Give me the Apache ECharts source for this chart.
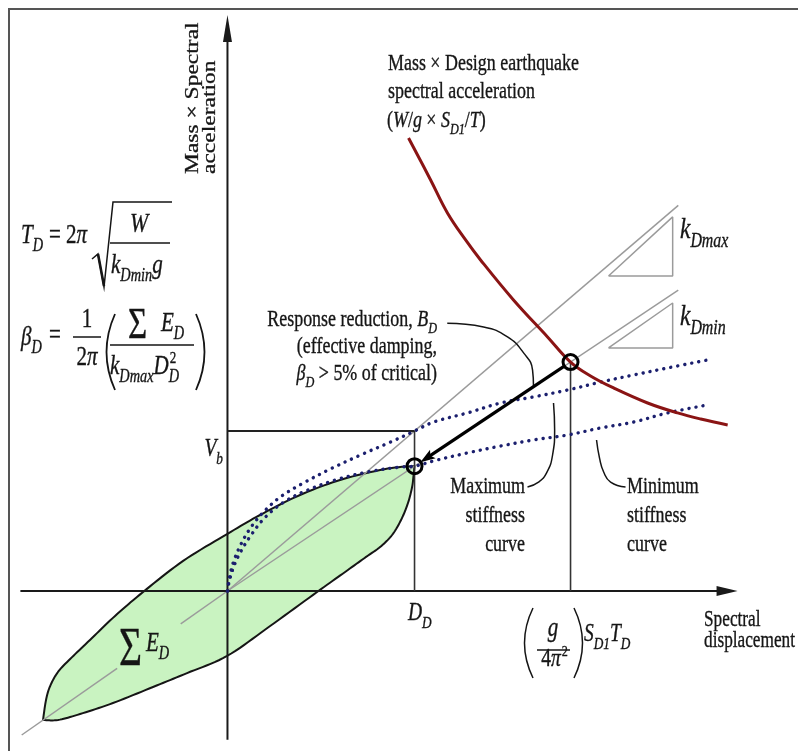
<!DOCTYPE html>
<html>
<head>
<meta charset="utf-8">
<title>Bilinear isolation system – design displacement</title>
<script src="https://cdn.jsdelivr.net/npm/echarts@6/dist/echarts.min.js"></script>
<style>
  html, body { margin: 0; padding: 0; background: #fff; }
  #chart { width: 798px; height: 751px; }
</style>
</head>
<body>
<div id="chart"></div>
<script>
// Units: displacement with D_D = 100, force with V_b = 100 (k_Dmax line through (D_D, V_b)).
const designPoint = [100, 78];        // (D_D, k_Dmin·D_D)
const demandPoint = [183.4, 143.1];   // ((g/4π²)·S_D1·T_D, k_Dmin·that)

const xAxisSpan = [[-110.7, 0], [272.7, 0]];
const yAxisSpan = [[0, -93], [0, 360]];

// Hysteresis loop: loading branch (tip -> design point) and unloading branch (design point -> tip)
const loopLoading = [[-98.6, -80.6], [-97, -68.1], [-94.8, -59.4], [-90.6, -50.6], [-84.1, -42.5], [-73.5, -30.6],
  [-60.1, -15.6], [-45.1, -0.6], [-23.7, 18.8], [-0.2, 35.6], [17.4, 47.5], [38.8, 60], [60.2, 69.4], [81.6, 75.6],
  [92.3, 77.5], [100, 78]];
const loopUnloading = [[100, 78], [99.5, 72.5], [98.7, 65], [96.5, 55], [92.8, 44.4], [88, 35], [81.6, 27.5],
  [74.1, 21.3], [62.9, 11.9], [47.9, -0.6], [22.8, -21.9], [-0.2, -40.6], [-21.6, -51.3], [-39.8, -60],
  [-61.2, -70], [-78.8, -76.9], [-90.6, -80.6], [-98.6, -80.6]];

// Capacity curves (dotted)
const maxStiffnessCurve = [[0, 0], [1.1, 8.8], [3.2, 18.1], [7, 28.8], [12.3, 39.4], [19.3, 49.4], [28.3, 58.8],
  [40.6, 67.5], [55.1, 76.3], [71.1, 85], [87.2, 93.1], [100, 100], [110.2, 105.6], [128.3, 111.3], [146, 117.5],
  [163.6, 121.3], [181.8, 125.6], [199.5, 130.6], [217.1, 135], [235.3, 139.4], [256.7, 144.4]];
const minStiffnessCurve = [[0, 0], [1.1, 6.9], [3.7, 16.3], [7, 24.4], [12.3, 34.4], [19.8, 45.6], [29.4, 55],
  [41.7, 62.5], [57.8, 69.4], [74.9, 74.4], [92.5, 77.5], [100, 78], [110.2, 81.3], [128.3, 86.3], [146, 90.6],
  [163.6, 94.4], [181.8, 97.5], [199.5, 101.9], [217.1, 105.6], [235.3, 111.3], [256.7, 116.3]];

// Demand: mass × design earthquake spectral acceleration
const demandCurve = [[96.8, 283.1], [108.6, 256.9], [117.6, 236.3], [127.3, 219.4], [135.3, 206.9], [152.9, 181.9],
  [171.1, 158.8], [183.4, 143.1], [194.1, 134.4], [206.4, 126.9], [224.6, 117.5], [240.6, 111.3], [253, 107.5], [267.4, 103.8]];

// Effective stiffness lines and slope triangles
const kDmaxLine = [[0, 0], [241, 241]];
const kDminLineLower = [[-110, -90], [-59, -48.3]];
const kDminLineMid = [[-25, -20.5], [0, 0]];
const kDminLineUpper = [[0, 0], [241, 188]];
const kDmaxTriangle = [[203.7, 196.9], [238, 233.8], [238, 196.9], [203.7, 196.9]];
const kDminTriangle = [[203.7, 151.9], [238, 180], [238, 151.9], [203.7, 151.9]];

// Reference lines
const ddLine = [[100, 0], [100, 100]];
const vbLine = [[0, 100], [100, 100]];
const demandLine = [[183.4, 0], [183.4, 143.1]];

// Label leaders
const dampingLeader = [[117.5, 167.3], [136.9, 165], [149.7, 158.8], [158.3, 148.8], [163.1, 138.1], [163.6, 128]];
const maxLeader = [[174.3, 117.5], [174.9, 100.6], [173.8, 85], [170.6, 73.8], [166.3, 68.1], [160.4, 65]];
const minLeader = [[197.3, 94.4], [198.9, 83.1], [201.1, 74.4], [204.8, 68.1], [212.8, 65]];

// Texts
const yTitle = ['Mass × Spectral', 'acceleration'];
const xTitle = ['Spectral', 'displacement'];
const demandTitle = ['Mass × Design earthquake', 'spectral acceleration'];
const maxLabel = ['Maximum', 'stiffness', 'curve'];
const minLabel = ['Minimum', 'stiffness', 'curve'];

// ---------------------------------------------------------------------------
const FONT = '"Liberation Serif", "Times New Roman", serif';
const SX = 0.78;
const INK = '#151515';
const mctx = document.createElement('canvas').getContext('2d');
function textWidth(t, size, it) {
  mctx.font = (it ? 'italic ' : '') + size + 'px ' + FONT;
  return mctx.measureText(t).width;
}
function glyph(t, x, base, size, it, o) {
  o = o || {};
  const sx = o.sx != null ? o.sx : SX;
  const align = o.align || 'left';
  return {
    type: 'text', x: x, y: base - 0.34 * size, scaleX: sx, z: 100, silent: true,
    style: {
      text: t, fill: o.color || INK, font: (it ? 'italic ' : '') + size + 'px ' + FONT,
      stroke: o.color || INK, lineWidth: 0.35,
      textAlign: align, align: align, textVerticalAlign: 'middle', verticalAlign: 'middle'
    }
  };
}
// pieces: [text, kind]; kind '' upright, 'i' italic, 's' italic subscript, 'p' superscript
function run(pieces, x, base, size, align, sx) {
  sx = sx != null ? sx : SX;
  const items = pieces.map(function (pc) {
    const k = pc[1] || '';
    const sub = k === 's', sup = k === 'p';
    const sz = sub ? size * 0.68 : sup ? size * 0.62 : size;
    const it = k === 'i' || k === 's';
    return { t: pc[0], sz: sz, it: it, dy: sub ? size * 0.28 : sup ? -size * 0.42 : 0, wd: textWidth(pc[0], sz, it) * sx };
  });
  const total = items.reduce(function (a, b) { return a + b.wd; }, 0);
  let cx = align === 'right' ? x - total : align === 'center' ? x - total / 2 : x;
  const els = items.map(function (it) {
    const g = glyph(it.t, cx, base + it.dy, it.sz, it.it, { sx: sx });
    cx += it.wd;
    return g;
  });
  return { els: els, end: cx };
}
function seg(x1, y1, x2, y2, w, color) {
  return { type: 'line', z: 100, silent: true, shape: { x1: x1, y1: y1, x2: x2, y2: y2 }, style: { stroke: color || INK, lineWidth: w || 1.5 } };
}
function paren(x1, y1, cx, y2, w) {
  return { type: 'bezierCurve', z: 100, silent: true,
    shape: { x1: x1, y1: y1, x2: x1, y2: y2, cpx1: cx, cpy1: (y1 + y2) / 2 },
    style: { stroke: INK, lineWidth: w || 1.6, fill: null } };
}

const graphics = [];
function add(r) { (r.els || [r]).forEach(function (e) { graphics.push(e); }); return r; }

// frame
graphics.push({ type: 'polyline', z: 90, silent: true, shape: { points: [[9, 751], [9, 9], [798, 9]] }, style: { stroke: '#555', lineWidth: 2, fill: null } });

// y-axis title, reading upward
[[yTitle[0], 193.5], [yTitle[1], 210.5]].forEach(function (p) {
  graphics.push({ type: 'text', x: p[1], y: 174, rotation: Math.PI / 2, scaleY: 0.8, z: 100, silent: true,
    style: { text: p[0], fill: INK, stroke: INK, lineWidth: 0.35, font: '23.5px ' + FONT, textAlign: 'left', align: 'left', textVerticalAlign: 'middle', verticalAlign: 'middle' } });
});

// T_D = 2π sqrt(W / (k_Dmin g))
add(run([['T', 'i'], ['D', 's']], 21, 245, 27));
add(glyph('=', 49, 245, 27, false));
add(run([['2', ''], ['π', 'i']], 66, 245, 27));
graphics.push({ type: 'polyline', z: 100, silent: true, shape: { points: [[92, 259], [98, 254], [104, 287], [113, 202], [172, 202]] }, style: { stroke: INK, lineWidth: 1.5, fill: null } });
add(seg(98, 254, 104, 286, 2.6));
add(glyph('W', 139, 234, 28, true, { align: 'center' }));
add(seg(110, 243, 170, 243, 1.5));
add(run([['k', 'i'], ['Dmin', 's'], ['g', 'i']], 111, 275, 27));

// β_D = 1/(2π) ( ΣE_D / (k_Dmax D_D²) )
add(run([['β', 'i'], ['D', 's']], 21, 347, 27));
add(glyph('=', 49, 345, 27, false));
add(glyph('1', 87, 329, 27, false, { align: 'center' }));
add(seg(73, 337, 101, 337, 1.5));
add(run([['2', ''], ['π', 'i']], 87, 367, 27, 'center'));
add(paren(115, 314, 98, 390, 1.8));
add(glyph('Σ', 128, 341, 44, false, { sx: 0.75 }));
add(run([['E', 'i'], ['D', 's']], 161, 333, 27));
add(seg(110, 345, 194, 345, 1.5));
const den = add(run([['k', 'i'], ['Dmax', 's'], ['D', 'i']], 110, 376, 27));
add(glyph('D', den.end, 376 + 27 * 0.28, 27 * 0.68, true));
add(glyph('2', den.end + 1, 376 - 27 * 0.42, 27 * 0.62, false));
add(paren(196, 314, 213, 390, 1.8));

// demand curve caption
add(run([[demandTitle[0], '']], 388, 72, 23));
add(run([[demandTitle[1], '']], 388, 100, 23));
add(run([['(', ''], ['W', 'i'], ['/', ''], ['g', 'i'], [' × ', ''], ['S', 'i'], ['D1', 's'], ['/', ''], ['T', 'i'], [')', '']], 387, 129, 23));

// stiffness labels
add(run([['k', 'i'], ['Dmax', 's']], 680, 240, 30));
add(run([['k', 'i'], ['Dmin', 's']], 680, 327, 30));

// damping note (right aligned)
add(run([['Response reduction, ', ''], ['B', 'i'], ['D', 's']], 437, 328, 23, 'right'));
add(run([['(effective damping,', '']], 437, 355, 23, 'right'));
add(run([['β', 'i'], ['D', 's'], [' > 5% of critical)', '']], 437, 382, 23, 'right'));

// V_b and D_D
add(run([['V', 'i'], ['b', 's']], 223, 458, 25, 'right'));
add(run([['D', 'i'], ['D', 's']], 408, 622, 25));

// (g / 4π²) S_D1 T_D
add(paren(533, 608, 516, 678, 1.5));
add(glyph('g', 553, 638, 27, true, { align: 'center' }));
add(seg(537, 650, 570, 650, 1.5));
const fp = add(run([['4', ''], ['π', 'i']], 551, 668, 25, 'center'));
add(glyph('2', fp.end + 1, 668 - 25 * 0.42, 25 * 0.62, false));
add(paren(574, 608, 591, 678, 1.5));
add(run([['S', 'i'], ['D1', 's'], ['T', 'i'], ['D', 's']], 584, 643, 25));

// ΣE_D inside the loop
add(glyph('Σ', 119, 669, 55, false, { sx: 0.72 }));
add(run([['E', 'i'], ['D', 's']], 146, 653, 27));

// capacity curve labels
[495, 524, 553].forEach(function (b, i) {
  add(run([[maxLabel[i], '']], 525, b, 23, 'right'));
  add(run([[minLabel[i], '']], 627, b, 23));
});

// axis title
add(run([[xTitle[0], '']], 704, 628, 23, 'left', 0.75));
add(run([[xTitle[1], '']], 704, 649, 23, 'left', 0.75));

// ---------------------------------------------------------------------------
function sampleSpline(pts, steps) {
  steps = steps || 10;
  const out = [];
  const n = pts.length;
  for (let i = 0; i < n - 1; i++) {
    const p0 = pts[Math.max(i - 1, 0)], p1 = pts[i], p2 = pts[i + 1], p3 = pts[Math.min(i + 2, n - 1)];
    for (let s = 0; s < steps; s++) {
      const t = s / steps, t2 = t * t, t3 = t2 * t;
      const f = function (a, b, c, d) {
        return 0.5 * ((2 * b) + (-a + c) * t + (2 * a - 5 * b + 4 * c - d) * t2 + (-a + 3 * b - 3 * c + d) * t3);
      };
      out.push([f(p0[0], p1[0], p2[0], p3[0]), f(p0[1], p1[1], p2[1], p3[1])]);
    }
  }
  out.push(pts[n - 1]);
  return out;
}
function arrowEls(a, b, len, half, width, color, trimStart, trimEnd, notch) {
  const dx = b[0] - a[0], dy = b[1] - a[1], L = Math.hypot(dx, dy), ux = dx / L, uy = dy / L;
  const s = [a[0] + ux * (trimStart || 0), a[1] + uy * (trimStart || 0)];
  const tip = [b[0] - ux * (trimEnd || 0), b[1] - uy * (trimEnd || 0)];
  const bx = tip[0] - ux * len, by = tip[1] - uy * len;
  const nx = tip[0] - ux * len * (notch || 1), ny = tip[1] - uy * len * (notch || 1);
  return [
    { type: 'line', shape: { x1: s[0], y1: s[1], x2: nx + ux, y2: ny + uy }, style: { stroke: color, lineWidth: width } },
    { type: 'polygon', shape: { points: [tip, [bx - uy * half, by + ux * half], [nx, ny], [bx + uy * half, by - ux * half]] }, style: { fill: color } }
  ];
}

function line(name, data, color, width, z, extra) {
  const s = {
    type: 'line', name: name, data: data, symbol: 'none', showSymbol: false, silent: true, animation: false, z: z,
    lineStyle: { color: color, width: width }
  };
  return Object.assign(s, extra || {});
}

const GRAY = '#9b9b9b';
const NAVY = '#1b1f6e';
const dotted = { width: 3.4, type: [0.1, 7], cap: 'round' };

const option = {
  animation: false,
  backgroundColor: '#ffffff',
  grid: { left: 3, right: 0, top: 0, bottom: 0 },
  xAxis: { type: 'value', min: -120, max: 305, show: false },
  yAxis: { type: 'value', min: -100, max: 369.375, show: false },
  series: [
    {
      type: 'custom', name: 'Hysteresis loop', data: [[0, 0]], z: 1, silent: true,
      renderItem: function (params, api) {
        const up = sampleSpline(loopLoading.map(function (p) { return api.coord(p); }));
        const dn = sampleSpline(loopUnloading.map(function (p) { return api.coord(p); }));
        return { type: 'polygon', shape: { points: up.concat(dn.slice(1)) },
          style: { fill: '#c9f3c1', stroke: INK, lineWidth: 2, lineJoin: 'round' } };
      }
    },
    line('k_Dmax', kDmaxLine, GRAY, 1.5, 2),
    line('k_Dmin lower', kDminLineLower, GRAY, 1.5, 2),
    line('k_Dmin mid', kDminLineMid, GRAY, 1.5, 2),
    line('k_Dmin', kDminLineUpper, GRAY, 1.5, 2),
    line('k_Dmax slope', kDmaxTriangle, GRAY, 1.5, 2),
    line('k_Dmin slope', kDminTriangle, GRAY, 1.5, 2),
    line('D_D', ddLine, '#333', 1.6, 3),
    line('V_b', vbLine, '#222', 2, 3),
    line('demand displacement', demandLine, '#333', 1.6, 3),
    {
      type: 'custom', name: 'Axes', data: [[0, 0]], z: 3, silent: true,
      renderItem: function (params, api) {
        const xa = arrowEls(api.coord(xAxisSpan[0]), api.coord(xAxisSpan[1]), 21, 5, 2, '#1a1a1a');
        const ya = arrowEls(api.coord(yAxisSpan[0]), api.coord(yAxisSpan[1]), 27, 4.5, 2, '#1a1a1a');
        return { type: 'group', children: xa.concat(ya) };
      }
    },
    line('Maximum stiffness curve', maxStiffnessCurve, NAVY, 3.4, 4, { smooth: 0.35, lineStyle: Object.assign({ color: NAVY }, dotted) }),
    line('Minimum stiffness curve', minStiffnessCurve, NAVY, 3.4, 4, { smooth: 0.35, lineStyle: Object.assign({ color: NAVY }, dotted) }),
    line('Design earthquake demand', demandCurve, '#8a1414', 3, 5, { smooth: 0.4 }),
    line('damping leader', dampingLeader, INK, 1.5, 5, { smooth: 0.5 }),
    line('max leader', maxLeader, INK, 1.5, 5, { smooth: 0.5 }),
    line('min leader', minLeader, INK, 1.5, 5, { smooth: 0.5 }),
    {
      type: 'custom', name: 'Response reduction', data: [[0, 0]], z: 6, silent: true,
      renderItem: function (params, api) {
        return { type: 'group', children: arrowEls(api.coord(demandPoint), api.coord(designPoint), 15, 5, 3.2, '#000', 7.5, 7, 0.8) };
      }
    },
    {
      type: 'scatter', name: 'Design points', data: [designPoint, demandPoint], z: 7, silent: true,
      symbol: 'circle', symbolSize: 15,
      itemStyle: { color: 'rgba(0,0,0,0)', borderColor: '#000', borderWidth: 3, opacity: 1 }
    }
  ],
  graphic: { elements: graphics }
};

const chart = echarts.init(document.getElementById('chart'));
chart.setOption(option);
</script>
</body>
</html>
